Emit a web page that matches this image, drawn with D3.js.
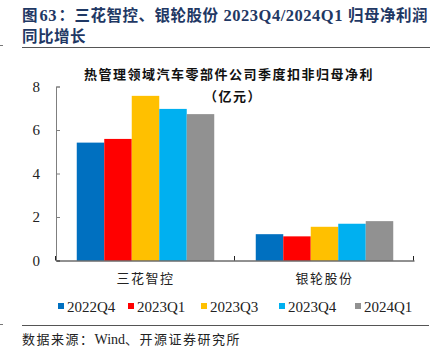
<!DOCTYPE html>
<html><head><meta charset="utf-8">
<script src="https://cdn.jsdelivr.net/npm/d3@7"></script>
<style>
html,body{margin:0;padding:0;background:#fff;}
svg{display:block;}
</style></head>
<body>
<script>
const categories = ["三花智控", "银轮股份"];
const seriesNames = ["2022Q4", "2023Q1", "2023Q3", "2023Q4", "2024Q1"];
const values2022Q4 = [5.42, 1.21];
const values2023Q1 = [5.59, 1.11];
const values2023Q3 = [7.57, 1.55];
const values2023Q4 = [6.97, 1.69];
const values2024Q1 = [6.73, 1.81];
const yTicks = [0, 2, 4, 6, 8];
const colors = ["#0070C0", "#FF0000", "#FFC000", "#00B0F0", "#919191"];
const seriesValues = [values2022Q4, values2023Q1, values2023Q3, values2023Q4, values2024Q1];

const W = 437, H = 355;
const svg = d3.select("body").append("svg").attr("width", W).attr("height", H);

const cjk = "'Noto Sans CJK SC', sans-serif";
const serif = "'Liberation Serif', 'Times New Roman', serif";

// Report title: segments laid out one after another
const titleColor = "#1F3864";
const segs = [
  {t: "图", f: cjk, s: 15.5},
  {t: "63", f: serif, s: 16.5},
  {t: "：三花智控、银轮股份", f: cjk, s: 15.5},
  {t: "2023Q4/2024Q1", f: serif, s: 16.5},
  {t: "归母净利润", f: cjk, s: 15.5}
];
const gaps = [1.5, 1.5, 5, 5];
const nodes = segs.map(sg => svg.append("text").attr("y", 21).attr("fill", titleColor)
  .attr("font-weight", "bold").attr("font-family", sg.f).attr("font-size", sg.s).text(sg.t));
let widths = nodes.map(n => n.node().getComputedTextLength());
const gapSum = gaps.reduce((a, b) => a + b, 0);
const total = widths.reduce((a, b) => a + b, 0) + gapSum;
const nChars = segs.reduce((a, sg) => a + sg.t.length, 0);
const ls = Math.max(0, (406 - total) / nChars);
nodes.forEach(n => n.attr("letter-spacing", ls));
widths = nodes.map(n => n.node().getComputedTextLength());
let cx = 22;
nodes.forEach((n, i) => {
  n.attr("x", cx);
  cx += widths[i] + (i < gaps.length ? gaps[i] : 0);
});
svg.append("text").attr("x", 22).attr("y", 42)
  .attr("fill", titleColor).attr("font-weight", "bold").attr("font-size", 15.5)
  .attr("font-family", cjk).attr("letter-spacing", ls).text("同比增长");

svg.append("line").attr("x1", 22).attr("x2", 430).attr("y1", 47.5).attr("y2", 47.5)
  .attr("stroke", "#555").attr("stroke-width", 1);
svg.append("line").attr("x1", 0).attr("x2", 3).attr("y1", 45.5).attr("y2", 45.5)
  .attr("stroke", "#777").attr("stroke-width", 1);

// Chart title
svg.append("text").attr("x", 229).attr("y", 79).attr("text-anchor", "middle")
  .attr("font-family", cjk).attr("font-weight", "bold").attr("font-size", 13)
  .attr("letter-spacing", 1.5).attr("fill", "#111")
  .text("热管理领域汽车零部件公司季度扣非归母净利");
svg.append("text").attr("x", 233).attr("y", 101).attr("text-anchor", "middle")
  .attr("font-family", cjk).attr("font-weight", "bold").attr("font-size", 13)
  .attr("letter-spacing", 1.5).attr("fill", "#111")
  .text("（亿元）");

// Scales
const x0 = d3.scaleBand().domain(categories).range([56, 414]).paddingInner(0).paddingOuter(0);
const x1 = d3.scaleBand().domain(seriesNames).range([0, x0.bandwidth()]).paddingInner(0).paddingOuter(0.755);
const y = d3.scaleLinear().domain([0, 8]).range([260.5, 86.5]);

// Bars
const g = svg.append("g");
categories.forEach((c, ci) => {
  seriesNames.forEach((s, si) => {
    const v = seriesValues[si][ci];
    g.append("rect")
      .attr("x", x0(c) + x1(s))
      .attr("y", y(v))
      .attr("width", x1.bandwidth())
      .attr("height", y(0) - y(v))
      .attr("fill", colors[si]);
  });
});

// Y axis
const yAxis = d3.axisRight(y).tickValues(yTicks).tickSize(4).tickFormat(d3.format("d"));
const ya = svg.append("g").attr("transform", "translate(56,0)").call(yAxis);
ya.select(".domain").attr("stroke", "#7f7f7f");
ya.selectAll(".tick line").attr("stroke", "#7f7f7f");
ya.selectAll(".tick text").attr("x", -16).attr("text-anchor", "end")
  .attr("font-family", serif).attr("font-size", 15).attr("fill", "#222");

// X axis
const xa = svg.append("g").attr("transform", "translate(0,260.5)")
  .call(d3.axisTop(x0).tickSize(0).tickFormat(""));
xa.select(".domain").attr("stroke", "#222");
[56, x0.step() + 56, 414].forEach(px => {
  svg.append("line").attr("x1", px - 0.5).attr("x2", px - 0.5).attr("y1", 260.5).attr("y2", 256)
    .attr("stroke", "#222");
});
categories.forEach(c => {
  svg.append("text").attr("x", x0(c) + x0.bandwidth() / 2).attr("y", 283)
    .attr("text-anchor", "middle").attr("font-family", cjk).attr("font-size", 13)
    .attr("letter-spacing", 1.5).attr("fill", "#222").text(c);
});

// Legend
const legendX = [58, 128, 201, 279, 355];
seriesNames.forEach((s, i) => {
  svg.append("rect").attr("x", legendX[i]).attr("y", 303).attr("width", 6).attr("height", 6)
    .attr("fill", colors[i]);
  svg.append("text").attr("x", legendX[i] + 9).attr("y", 312)
    .attr("font-family", serif).attr("font-size", 15).attr("fill", "#222").text(s);
});

// Footer
svg.append("line").attr("x1", 22).attr("x2", 429).attr("y1", 325.5).attr("y2", 325.5)
  .attr("stroke", "#555").attr("stroke-width", 1);
svg.append("line").attr("x1", 0).attr("x2", 3).attr("y1", 324.5).attr("y2", 324.5)
  .attr("stroke", "#777").attr("stroke-width", 1);
const src = svg.append("text").attr("x", 22).attr("y", 344).attr("font-size", 13).attr("fill", "#222");
src.append("tspan").attr("font-family", cjk).attr("letter-spacing", 1.5).text("数据来源：");
src.append("tspan").attr("font-family", serif).attr("font-size", 14).text("Wind");
src.append("tspan").attr("font-family", cjk).attr("letter-spacing", 1.5).text("、开源证券研究所");
</script>
</body></html>
